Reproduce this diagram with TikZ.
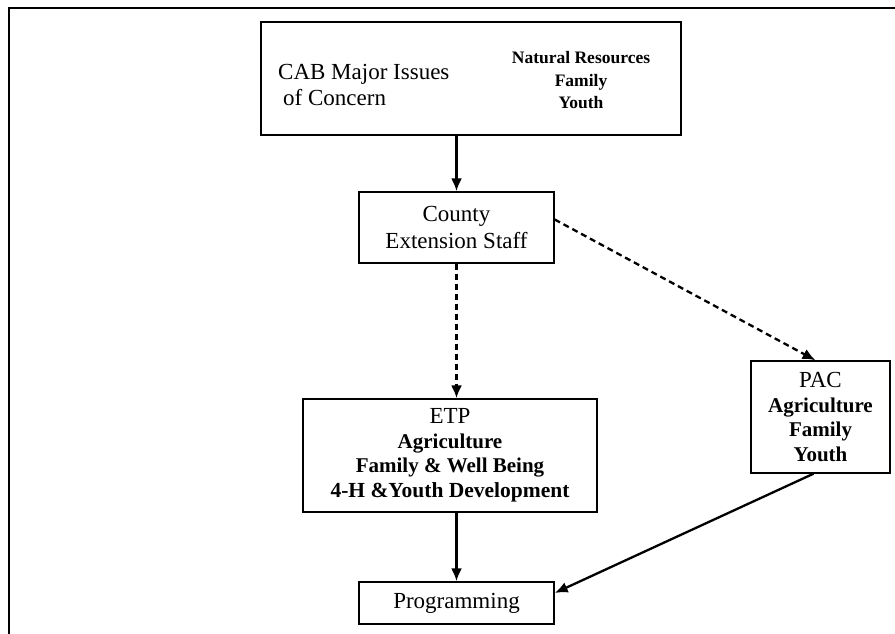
\documentclass[tikz,border=0pt]{standalone}
\usepackage{fontspec}
\setmainfont{Liberation Serif}
\usetikzlibrary{arrows.meta}
\usetikzlibrary{positioning}
\newcommand\bl[2][21]{{\fontsize{#1}{24}\selectfont\bfseries #2}}

\begin{document}
\begin{tikzpicture}[x=1pt, y=-1pt,
>={Latex[length=13pt,width=11pt]},
box/.style={
  draw,
  line width=1.4pt,
  inner sep=0pt,
  align=center,
  font=\fontsize{23}{24.5}\selectfont},
link/.style={->, line width=2.3pt},
dlink/.style={link, dash pattern=on 6pt off 4pt}
]
\useasboundingbox (0,0) rectangle (895,634);
\draw[line width=2.3pt] (9,634) -- (9,8) -- (895,8); % frame

\node[box, minimum width=420pt, minimum height=113pt] (cab) at (471,78.5) {};
\node[anchor=west, align=left, inner sep=0pt, font=\fontsize{23}{26}\selectfont]
  (cabtext) at (278,85) {CAB Major Issues\\\hspace{5pt}of Concern};
\node[align=center, inner sep=0pt, font=\fontsize{17.5}{22.5}\selectfont\bfseries]
  (cabissues) at (581,80.5) {Natural Resources\\Family\\Youth};

\node[box, minimum width=195pt, minimum height=71pt, font=\fontsize{23}{27}\selectfont]
  (county) at (456.5,227.5) {County\\Extension Staff};
\node[box, minimum width=294pt, minimum height=113pt] (etp) at (450,455.5)
  {ETP\\\bl{Agriculture}\\\bl{Family \& Well Being}\\\bl[21.5]{4-H \&Youth Development}};
\node[box, minimum width=139pt, minimum height=112pt] (pac) at (820.5,417)
  {PAC\\\bl{Agriculture}\\\bl{Family}\\\bl{Youth}};
\node[box, minimum width=195pt, minimum height=42pt] (prog) at (456.5,603) {Programming};

\draw[link] (county.north |- cab.south) -- (county.north);
\draw[dlink] (county.south) -- (county.south |- etp.north);
\draw[dlink] ([yshift=8pt]county.east) -- ([xshift=-5pt]pac.north);
\draw[link] (prog.north |- etp.south) -- (prog.north);
\draw[link] ([xshift=-7pt]pac.south) -- ([yshift=10pt]prog.east);
\end{tikzpicture}
\end{document}
